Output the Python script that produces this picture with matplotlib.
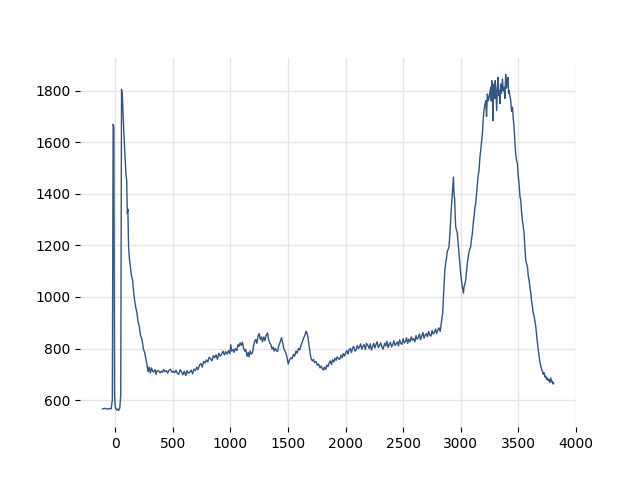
import matplotlib
matplotlib.use("Agg")
import matplotlib.pyplot as plt

# x positions, 12 per row (rows line up with y below)
x = [-110, -90, -70, -50, -35, -25, -18, -12, -6, 0, 10, 20,
     30, 40, 48, 55, 62, 70, 81, 93, 100, 105, 110, 116,
     123, 131, 140, 151, 160, 168, 178, 189, 198, 209, 220, 233,
     244, 256, 266, 276, 285, 295, 305, 315, 325, 334, 345, 355,
     365, 378, 390, 400, 410, 420, 432, 444, 456, 468, 480, 492,
     504, 516, 528, 540, 552, 564, 576, 588, 600, 612, 624, 636,
     648, 660, 672, 684, 696, 708, 720, 732, 744, 756, 768, 780,
     792, 804, 816, 828, 840, 852, 864, 876, 888, 900, 912, 924,
     936, 948, 960, 972, 984, 996, 1003, 1012, 1024, 1032, 1044, 1056,
     1066, 1075, 1085, 1095, 1105, 1115, 1125, 1134, 1145, 1155, 1162, 1172,
     1182, 1192, 1202, 1212, 1221, 1230, 1240, 1250, 1260, 1270, 1279, 1290,
     1300, 1310, 1323, 1332, 1342, 1352, 1362, 1372, 1380, 1390, 1400, 1410,
     1420, 1432, 1444, 1454, 1464, 1474, 1482, 1492, 1503, 1514, 1526, 1536,
     1548, 1558, 1570, 1580, 1592, 1603, 1613, 1625, 1635, 1645, 1657, 1665,
     1672, 1682, 1692, 1700, 1712, 1722, 1732, 1744, 1756, 1766, 1778, 1788,
     1798, 1808, 1817, 1828, 1838, 1848, 1858, 1868, 1878, 1888, 1898, 1908,
     1918, 1928, 1940, 1950, 1960, 1970, 1980, 1991, 2002, 2012, 2022, 2032,
     2042, 2052, 2062, 2072, 2082, 2092, 2102, 2112, 2122, 2132, 2142, 2152,
     2162, 2172, 2182, 2195, 2205, 2215, 2225, 2235, 2245, 2255, 2265, 2275,
     2285, 2296, 2306, 2316, 2326, 2340, 2350, 2360, 2370, 2380, 2390, 2400,
     2410, 2420, 2430, 2440, 2450, 2460, 2470, 2480, 2490, 2500, 2510, 2520,
     2530, 2540, 2550, 2560, 2572, 2582, 2592, 2602, 2612, 2622, 2632, 2642,
     2652, 2662, 2672, 2682, 2692, 2702, 2712, 2722, 2732, 2742, 2752, 2762,
     2772, 2782, 2792, 2802, 2812, 2822, 2832, 2844, 2855, 2862, 2870, 2877,
     2884, 2892, 2899, 2906, 2913, 2920, 2928, 2933, 2937, 2942, 2948, 2952,
     2957, 2964, 2971, 2978, 2986, 2993, 3000, 3008, 3016, 3024, 3030, 3037,
     3044, 3051, 3058, 3066, 3073, 3080, 3087, 3095, 3102, 3109, 3116, 3124,
     3131, 3138, 3145, 3152, 3160, 3167, 3174, 3181, 3189, 3196, 3203, 3210,
     3218, 3225, 3232, 3240, 3247, 3254, 3261, 3266, 3270, 3276, 3281, 3286,
     3290, 3296, 3300, 3305, 3313, 3318, 3325, 3331, 3337, 3342, 3348, 3355,
     3363, 3370, 3377, 3384, 3391, 3398, 3405, 3412, 3416, 3420, 3428, 3435,
     3442, 3450, 3457, 3464, 3471, 3478, 3485, 3493, 3500, 3507, 3515, 3522,
     3529, 3536, 3544, 3551, 3558, 3565, 3572, 3580, 3587, 3594, 3601, 3609,
     3616, 3623, 3630, 3638, 3645, 3652, 3660, 3667, 3674, 3681, 3688, 3696,
     3703, 3710, 3717, 3725, 3732, 3739, 3746, 3754, 3761, 3768, 3775, 3783,
     3790, 3797, 3803, 3806]

y = [566, 568, 565, 567, 566, 600, 1670, 1660, 620, 575, 562, 565,
     560, 570, 620, 1805, 1780, 1690, 1581, 1478, 1450, 1324, 1340, 1195,
     1150, 1118, 1085, 1066, 1020, 989, 960, 938, 905, 886, 850, 835,
     800, 783, 760, 738, 710, 728, 705, 725, 712, 709, 718, 700,
     715, 713, 705, 712, 708, 718, 710, 714, 705, 716, 719, 708,
     712, 706, 716, 703, 700, 718, 709, 698, 712, 695, 714, 704,
     708, 716, 702, 720, 714, 728, 718, 736, 742, 728, 750, 744,
     756, 748, 766, 760, 752, 772, 764, 776, 758, 782, 770, 778,
     790, 775, 788, 778, 792, 780, 815, 790, 796, 785, 800, 792,
     815, 808, 822, 812, 825, 800, 790, 796, 770, 785, 768, 790,
     778, 783, 812, 830, 835, 820, 848, 858, 835, 845, 826, 845,
     830, 850, 860, 835, 822, 815, 798, 805, 790, 800, 792, 788,
     810, 825, 842, 822, 800, 790, 783, 765, 740, 755, 764, 760,
     778, 770, 790, 782, 800, 795, 812, 825, 840, 848, 867, 860,
     848, 815, 785, 762, 752, 758, 745, 750, 735, 740, 725, 732,
     722, 716, 728, 719, 736, 730, 744, 752, 738, 756, 748, 762,
     754, 768, 760, 758, 774, 764, 780, 770, 785, 792, 778, 796,
     800, 784, 803, 808, 790, 794, 812, 800, 806, 818, 797, 810,
     815, 796, 820, 812, 800, 818, 794, 808, 820, 802, 816, 826,
     804, 812, 822, 806, 798, 820, 810, 828, 804, 816, 824, 806,
     815, 830, 812, 818, 826, 810, 834, 820, 816, 838, 822, 828,
     842, 820, 836, 826, 845, 832, 838, 826, 850, 836, 842, 856,
     834, 848, 862, 840, 852, 858, 846, 866, 852, 848, 870, 856,
     862, 876, 858, 872, 880, 866, 899, 938, 1041, 1100, 1131, 1150,
     1176, 1185, 1195, 1240, 1298, 1350, 1401, 1440, 1465, 1401, 1380, 1320,
     1272, 1260, 1247, 1210, 1169, 1130, 1092, 1060, 1035, 1015, 1040, 1050,
     1066, 1100, 1131, 1155, 1176, 1185, 1195, 1225, 1247, 1285, 1311, 1345,
     1363, 1400, 1440, 1470, 1491, 1540, 1568, 1600, 1633, 1690, 1723, 1745,
     1761, 1700, 1787, 1760, 1774, 1795, 1813, 1760, 1839, 1790, 1684, 1800,
     1826, 1770, 1839, 1810, 1723, 1800, 1851, 1780, 1800, 1750, 1826, 1790,
     1845, 1800, 1813, 1770, 1863, 1810, 1840, 1851, 1790, 1800, 1780, 1761,
     1720, 1736, 1690, 1658, 1600, 1556, 1530, 1517, 1470, 1440, 1390, 1375,
     1330, 1298, 1270, 1247, 1190, 1144, 1130, 1118, 1080, 1066, 1040, 1015,
     985, 963, 940, 925, 905, 886, 850, 822, 795, 770, 750, 732,
     720, 712, 700, 706, 690, 693, 680, 686, 675, 680, 668, 686,
     670, 673, 662, 667]

fig, ax = plt.subplots(figsize=(6.4, 4.8), dpi=100)
ax.plot(x, y, color='#34557f', linewidth=1.0)

ax.set_yticks([600, 800, 1000, 1200, 1400, 1600, 1800])
ax.set_xticks([0, 500, 1000, 1500, 2000, 2500, 3000, 3500, 4000])
ax.grid(True, color='#e6e6e6', linewidth=1.0)
ax.set_axisbelow(True)
for spine in ax.spines.values():
    spine.set_visible(False)

plt.savefig('out.png')
